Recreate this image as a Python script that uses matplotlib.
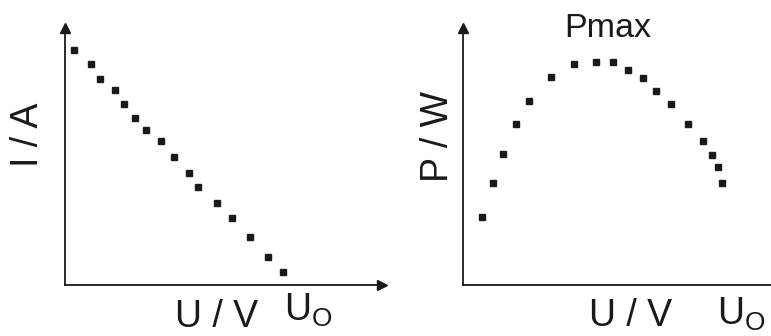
import matplotlib
matplotlib.use("Agg")
from matplotlib import pyplot as plt

# I-U curve (arbitrary units)
iu_u = [9, 26, 35, 50, 59, 70, 81, 96, 109, 124, 133, 152, 167, 185, 203, 218]
iu_i = [235, 221, 206, 195, 181, 167, 155, 144, 128, 112, 98, 82, 67, 48, 28, 13]

# P-U curve
pu_u = [19, 30, 40, 53, 66, 88, 111, 133, 150, 165, 180, 193, 208, 225, 240, 249, 255, 259]
pu_p = [68, 102, 131, 161, 184, 208, 221, 223, 223, 215, 207, 194, 181, 161, 144, 130, 118, 102]

W, H = 771, 336
plt.rcParams['font.family'] = ['Liberation Sans', 'DejaVu Sans']
ink = '#1a1a1a'

fig = plt.figure(figsize=(W / 100, H / 100), dpi=100)


def px_axes(x0, y0, x1, y1):
    # axes placed by pixel box (top-left origin)
    return fig.add_axes([x0 / W, 1 - y1 / H, (x1 - x0) / W, (y1 - y0) / H])


def txt(x, y, s, **kw):
    fig.text(x / W, 1 - y / H, s, color=ink, **kw)


def style(ax, xmax, ymax, arrow_x=True):
    ax.set_xlim(0, xmax)
    ax.set_ylim(0, ymax)
    for side in ['top', 'right']:
        ax.spines[side].set_visible(False)
    for side in ['left', 'bottom']:
        ax.spines[side].set_color(ink)
        ax.spines[side].set_linewidth(1.3)
    ax.set_xticks([])
    ax.set_yticks([])
    ax.patch.set_alpha(0)
    ax.plot(0, 1, '^', color=ink, ms=7, transform=ax.transAxes, clip_on=False)
    if arrow_x:
        ax.plot(1, 0, '>', color=ink, ms=7, transform=ax.transAxes, clip_on=False)


ax1 = px_axes(65, 28, 382, 285)
style(ax1, 317, 257)
ax1.plot(iu_u, iu_i, 's', color=ink, ms=5, clip_on=False)

ax2 = px_axes(463, 28, 771, 285)
style(ax2, 308, 257, arrow_x=False)
ax2.plot(pu_u, pu_p, 's', color=ink, ms=5, clip_on=False)

# labels
fs = 27
uo = r'U$_\mathregular{O}$'
txt(28, 135, 'I / A', fontsize=fs, rotation=90, ha='center', va='center')
txt(175, 327, 'U / V', fontsize=fs, ha='left', va='baseline')
txt(284, 321, uo, fontsize=fs, ha='left', va='baseline')

txt(438, 137, 'P / W', fontsize=fs, rotation=90, ha='center', va='center')
txt(589, 326, 'U / V', fontsize=fs, ha='left', va='baseline')
txt(717, 325, uo, fontsize=fs, ha='left', va='baseline')
txt(608, 37, 'Pmax', fontsize=24.5, ha='center', va='baseline')

fig.savefig('out.png', dpi=100)
